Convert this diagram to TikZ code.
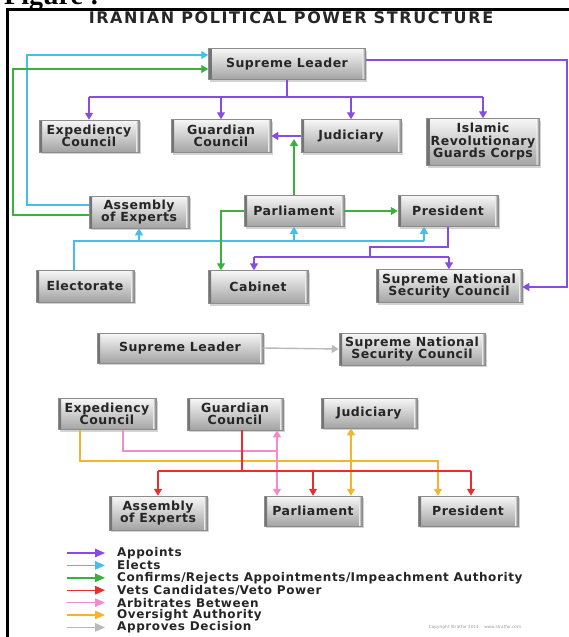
\documentclass[tikz,border=0pt]{standalone}
\usepackage{fontspec}
\setmainfont{DejaVu Sans}
\newfontfamily\figfont{Liberation Serif}
\usetikzlibrary{arrows.meta,shadows}
\definecolor{cPur}{RGB}{135,75,230}
\definecolor{cCya}{RGB}{70,190,235}
\definecolor{cGrn}{RGB}{60,175,60}
\definecolor{cRed}{RGB}{235,45,45}
\definecolor{cPnk}{RGB}{240,140,205}
\definecolor{cOrg}{RGB}{245,180,45}
\definecolor{cGry}{RGB}{185,185,185}
\tikzset{
  box/.style={draw=black!45, line width=0.5pt, top color=black!3, bottom color=black!36,
    drop shadow={shadow xshift=1.5pt, shadow yshift=-2pt, opacity=0.35},
    font=\bfseries\fontsize{12.5}{12.5}\selectfont\addfontfeature{LetterSpace=4}, text=black!85, align=center, inner sep=1pt,
    path picture={
      \shade[left color=black!55, right color=black!8] (path picture bounding box.south west) rectangle ([xshift=3pt]path picture bounding box.north west);
      \shade[right color=black!55, left color=black!8] ([xshift=-3pt]path picture bounding box.south east) rectangle (path picture bounding box.north east);
    }},
  con/.style={line width=1.4pt},
  tip/.style={-{Triangle[length=7pt,width=8pt]}},
  dtip/.style={{Triangle[length=7pt,width=8pt]}-{Triangle[length=7pt,width=8pt]}},
  legtext/.style={anchor=west, font=\bfseries\fontsize{12}{12}\selectfont\addfontfeature{LetterSpace=5}, text=black!85, inner sep=0pt},
}
\begin{document}
\begin{tikzpicture}[x=1pt,y=-1pt]
\useasboundingbox (0,0) rectangle (569,637);
% frame and heading
\node[anchor=base west, inner sep=0pt, font=\figfont\bfseries\fontsize{28}{28}\selectfont] (fig) at (4,4.5) {Figure :};
\draw[line width=3pt] (7.5,637) -- (7.5,9.5) -- (569,9.5);
\node (title) at (291,18) {\bfseries\fontsize{16}{16}\selectfont\addfontfeature{LetterSpace=10}\color{black!85}IRANIAN POLITICAL POWER STRUCTURE};

% ---------- top diagram ----------
\node[box, minimum width=157pt, minimum height=31pt] (sl) at (287,64) {Supreme Leader};
\node[box, minimum width=100pt, minimum height=32pt] (exp) at (89,136) {Expediency\\Council};
\node[box, minimum width=100pt, minimum height=33pt] (gua) at (221,136) {Guardian\\Council};
\node[box, minimum width=100pt, minimum height=33pt] (jud) at (351,136) {Judiciary};
\node[box, minimum width=113pt, minimum height=47pt] (irgc) at (483,142) {Islamic\\Revolutionary\\Guards Corps};
\node[box, minimum width=100pt, minimum height=32pt] (asm) at (139,212) {Assembly\\of Experts};
\node[box, minimum width=100pt, minimum height=31pt] (par) at (294,211) {Parliament};
\node[box, minimum width=100pt, minimum height=31pt] (pre) at (448,211) {President};
\node[box, minimum width=98pt, minimum height=32pt] (ele) at (85,286) {Electorate};
\node[box, minimum width=100pt, minimum height=33pt] (cab) at (258,287) {Cabinet};
\node[box, minimum width=146pt, minimum height=33pt] (snsc) at (449,286) {Supreme National\\Security Council};

% elects
\draw[con,cCya,tip] (asm.west |- 0,205) -- (27,205) -- (27,55) -- (sl.west |- 0,55);
\draw[con,cCya] (ele.north -| 74,0) -- (74,241) -- (424,241);
\draw[con,cCya,tip] (asm.south |- 0,241) -- (asm.south);
\draw[con,cCya,tip] (par.south |- 0,241) -- (par.south);
\draw[con,cCya,tip] (424,241) -- (pre.south -| 424,0);
% confirms
\draw[con,cGrn,tip] (asm.west |- 0,215) -- (13,215) -- (13,69) -- (sl.west |- 0,69);
\draw[con,cGrn,tip] (par.north) -- (par.north |- 0,139);
\draw[con,cGrn,tip] (par.east) -- (pre.west);
\draw[con,cGrn,tip] (par.west) -- (221,211) -- (cab.north -| 221,0);
% appoints
\draw[con,cPur] (sl.south) -- (sl.south |- 0,97);
\draw[con,cPur] (exp.north |- 0,97) -- (irgc.north |- 0,97);
\draw[con,cPur,tip] (exp.north |- 0,97) -- (exp.north);
\draw[con,cPur,tip] (gua.north |- 0,97) -- (gua.north);
\draw[con,cPur,tip] (jud.north |- 0,97) -- (jud.north);
\draw[con,cPur,tip] (irgc.north |- 0,97) -- (irgc.north);
\draw[con,cPur,tip] (jud.west) -- (gua.east);
\draw[con,cPur,tip] (sl.east |- 0,60) -- (567,60) -- (567,287) -- (snsc.east |- 0,287);
\draw[con,cPur] (pre.south) -- (448,247) -- (370,247) -- (370,257);
\draw[con,cPur] (254,257) -- (snsc.north |- 0,257);
\draw[con,cPur,tip] (254,257) -- (cab.north -| 254,0);
\draw[con,cPur,tip] (snsc.north |- 0,257) -- (snsc.north);

% ---------- middle diagram ----------
\node[box, minimum width=166pt, minimum height=30pt] (sl2) at (180,348) {Supreme Leader};
\node[box, minimum width=146pt, minimum height=32pt] (snsc2) at (412,349) {Supreme National\\Security Council};
\draw[con,cGry,tip] (sl2.east) -- (snsc2.west);

% ---------- lower diagram ----------
\node[box, minimum width=98pt, minimum height=31pt] (exp2) at (107,414) {Expediency\\Council};
\node[box, minimum width=96pt, minimum height=32pt] (gua2) at (235,414) {Guardian\\Council};
\node[box, minimum width=96pt, minimum height=30pt] (jud2) at (369,413) {Judiciary};
\node[box, minimum width=98pt, minimum height=34pt] (asm2) at (158,513) {Assembly\\of Experts};
\node[box, minimum width=98pt, minimum height=30pt] (par2) at (313,511) {Parliament};
\node[box, minimum width=100pt, minimum height=30pt] (pre2) at (468,511) {President};

\draw[con,cOrg,tip] (exp2.south -| 80,0) -- (80,461) -- (438,461) -- (pre2.north -| 438,0);
\draw[con,cOrg,dtip] (jud2.south -| 351,0) -- (par2.north -| 351,0);
\draw[con,cPnk] (exp2.south -| 123,0) -- (123,451) -- (277,451);
\draw[con,cPnk,dtip] (gua2.south -| 277,0) -- (par2.north -| 277,0);
\draw[con,cRed] (gua2.south -| 242,0) -- (242,471);
\draw[con,cRed] (asm2.north |- 0,471) -- (471,471);
\draw[con,cRed,tip] (asm2.north |- 0,471) -- (asm2.north);
\draw[con,cRed,tip] (par2.north |- 0,471) -- (par2.north);
\draw[con,cRed,tip] (471,471) -- (pre2.north -| 471,0);

% ---------- legend ----------
\foreach \c/\t [count=\i from 0] in {cPur/Appoints, cCya/Elects, cGrn/Confirms\slash Rejects Appointments\slash Impeachment Authority, cRed/Vets Candidates\slash Veto Power, cPnk/Arbitrates Between, cOrg/Oversight Authority, cGry/Approves Decision}{
  \coordinate (la\i) at (67,553+12.4*\i);
  \coordinate (lb\i) at (105,553+12.4*\i);
  \draw[con,\c,-{Triangle[length=10pt,width=8.5pt]}] (la\i) -- (lb\i);
  \node[legtext] (lt\i) at (117,553+12.4*\i) {\t};
}
\node[anchor=center, font=\fontsize{4.2}{5}\selectfont, text=black!40] (copy) at (475,627) {Copyright Stratfor 2014 \quad www.stratfor.com};
\end{tikzpicture}
\end{document}
